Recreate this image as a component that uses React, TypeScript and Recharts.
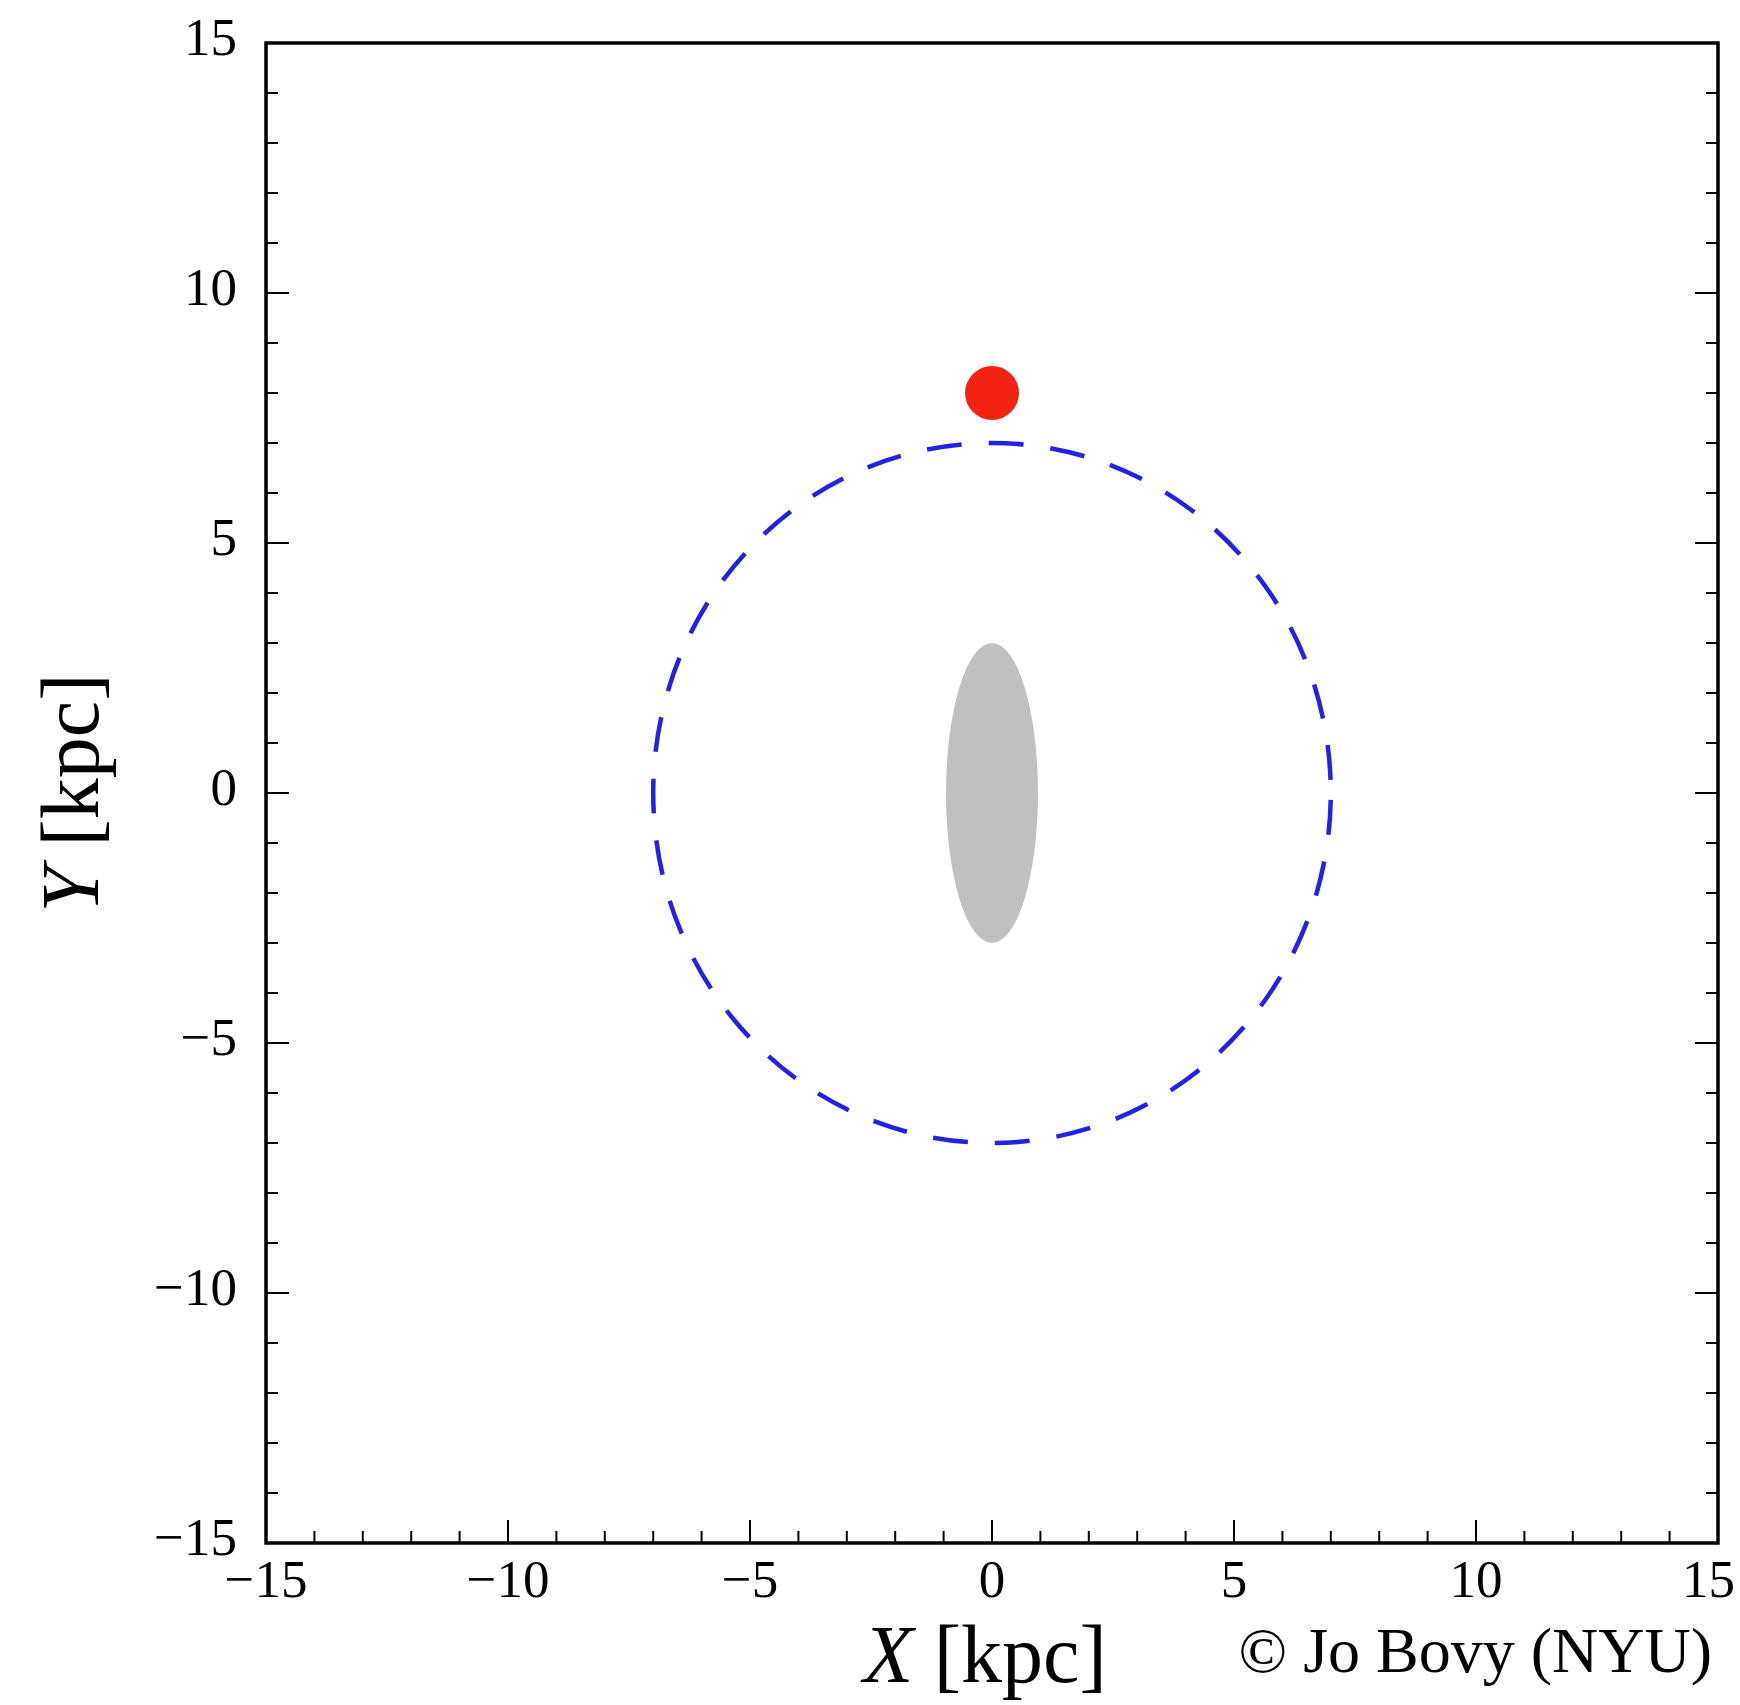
import { ScatterChart, Scatter, XAxis, YAxis, ReferenceArea } from "recharts";

// axis range and ticks (kpc)
const axisDomain: [number, number] = [-15, 15];
const tickValues = [
  -15, -14, -13, -12, -11, -10, -9, -8, -7, -6, -5, -4, -3, -2, -1, 0,
  1, 2, 3, 4, 5, 6, 7, 8, 9, 10, 11, 12, 13, 14, 15,
];
const majorTicks = [-15, -10, -5, 0, 5, 10, 15];

// position of the sun
const sunPoint = [{ x: 0, y: 8 }];

// dashed orbit circle: center and radius
const orbitCenter = { x: 0, y: 0 };
const orbitRadius = 7;

// bar (gray ellipse): center and half-axes
const barCenter = { x: 0, y: 0 };
const barHalfX = 0.95;
const barHalfY = 3;

const FONT = "'Liberation Serif', 'DejaVu Serif', serif";
const MAJOR_LEN = 23;
const MINOR_LEN = 12;

const fmt = (v: number) => (v < 0 ? "\u2212" + Math.abs(v) : String(v));
const isMajor = (v: number) => majorTicks.includes(v);
const isEdge = (v: number) => v === axisDomain[0] || v === axisDomain[1];

const BottomTick = (props: any) => {
  const { x, y, payload } = props;
  const v = payload.value;
  // keep the last label inside the picture
  const atRight = v === axisDomain[1];
  return (
    <g>
      {!isEdge(v) && (
        <line x1={x} x2={x} y1={y} y2={y - (isMajor(v) ? MAJOR_LEN : MINOR_LEN)} stroke="#000" strokeWidth={2} />
      )}
      {isMajor(v) && (
        <text
          x={atRight ? x + 17 : x}
          y={y + 54}
          textAnchor={atRight ? "end" : "middle"}
          fontSize={53}
          fontFamily={FONT}
          fill="#000"
        >
          {fmt(v)}
        </text>
      )}
    </g>
  );
};

const TopTick = (props: any) => {
  const { x, y, payload } = props;
  const v = payload.value;
  if (isEdge(v)) return <g />;
  return (
    <line x1={x} x2={x} y1={y} y2={y + (isMajor(v) ? MAJOR_LEN : MINOR_LEN)} stroke="#000" strokeWidth={2} />
  );
};

const LeftTick = (props: any) => {
  const { x, y, payload } = props;
  const v = payload.value;
  return (
    <g>
      {!isEdge(v) && (
        <line x1={x} x2={x + (isMajor(v) ? MAJOR_LEN : MINOR_LEN)} y1={y} y2={y} stroke="#000" strokeWidth={2} />
      )}
      {isMajor(v) && (
        <text x={x - 29} y={y + 12} textAnchor="end" fontSize={53} fontFamily={FONT} fill="#000">
          {fmt(v)}
        </text>
      )}
    </g>
  );
};

const RightTick = (props: any) => {
  const { x, y, payload } = props;
  const v = payload.value;
  if (isEdge(v)) return <g />;
  return (
    <line x1={x} x2={x - (isMajor(v) ? MAJOR_LEN : MINOR_LEN)} y1={y} y2={y} stroke="#000" strokeWidth={2} />
  );
};

// ellipse inscribed in the reference area box
const DashedOrbit = (props: any) => {
  const { x, y, width, height } = props;
  return (
    <ellipse
      cx={x + width / 2}
      cy={y + height / 2}
      rx={width / 2}
      ry={height / 2}
      fill="none"
      stroke="#2222e6"
      strokeWidth={4.5}
      strokeDasharray="35 27"
      strokeDashoffset={-7}
    />
  );
};

const BarShape = (props: any) => {
  const { x, y, width, height } = props;
  return <ellipse cx={x + width / 2} cy={y + height / 2} rx={width / 2} ry={height / 2} fill="#c0c0c0" />;
};

const SunDot = (props: any) => {
  const { cx, cy } = props;
  return <circle cx={cx} cy={cy} r={27} fill="#f42212" />;
};

const XLabel = (props: any) => {
  const { viewBox } = props;
  const cx = viewBox.x + viewBox.width / 2 - 7;
  return (
    <g fontFamily={FONT} fill="#000">
      <text x={cx} y={viewBox.y + 139} textAnchor="middle" fontSize={82}>
        <tspan fontStyle="italic">X</tspan> [kpc]
      </text>
      <text x={viewBox.x + viewBox.width - 6} y={viewBox.y + 129} textAnchor="end" fontSize={64}>
        © Jo Bovy (NYU)
      </text>
    </g>
  );
};

const YLabel = (props: any) => {
  const { viewBox } = props;
  const cy = viewBox.y + viewBox.height / 2;
  return (
    <text
      x={98}
      y={cy}
      transform={`rotate(-90, 98, ${cy})`}
      textAnchor="middle"
      fontSize={82}
      fontFamily={FONT}
      fill="#000"
    >
      <tspan fontStyle="italic">Y</tspan> [kpc]
    </text>
  );
};

export default function App() {
  return (
    <div style={{ position: "absolute", left: 0, top: 0, width: 1740, height: 1705, background: "#fff" }}>
      <ScatterChart width={1740} height={1705} margin={{ top: 0, right: 0, bottom: 0, left: 0 }}>
        <XAxis
          xAxisId="b"
          dataKey="x"
          type="number"
          orientation="bottom"
          domain={axisDomain}
          ticks={tickValues}
          interval={0}
          allowDataOverflow
          height={162}
          tickSize={0}
          tickMargin={0}
          tickLine={false}
          axisLine={false}
          tick={<BottomTick />}
          label={<XLabel />}
        />
        <XAxis
          xAxisId="t"
          type="number"
          orientation="top"
          domain={axisDomain}
          ticks={tickValues}
          interval={0}
          allowDataOverflow
          height={43}
          tickSize={0}
          tickMargin={0}
          tickLine={false}
          axisLine={false}
          tick={<TopTick />}
        />
        <YAxis
          yAxisId="l"
          dataKey="y"
          type="number"
          orientation="left"
          domain={axisDomain}
          ticks={tickValues}
          interval={0}
          allowDataOverflow
          width={266}
          tickSize={0}
          tickMargin={0}
          tickLine={false}
          axisLine={false}
          tick={<LeftTick />}
          label={<YLabel />}
        />
        <YAxis
          yAxisId="r"
          type="number"
          orientation="right"
          domain={axisDomain}
          ticks={tickValues}
          interval={0}
          allowDataOverflow
          width={22}
          tickSize={0}
          tickMargin={0}
          tickLine={false}
          axisLine={false}
          tick={<RightTick />}
        />
        <ReferenceArea
          xAxisId="b"
          yAxisId="l"
          x1={barCenter.x - barHalfX}
          x2={barCenter.x + barHalfX}
          y1={barCenter.y - barHalfY}
          y2={barCenter.y + barHalfY}
          shape={<BarShape />}
        />
        <ReferenceArea
          xAxisId="b"
          yAxisId="l"
          x1={orbitCenter.x - orbitRadius}
          x2={orbitCenter.x + orbitRadius}
          y1={orbitCenter.y - orbitRadius}
          y2={orbitCenter.y + orbitRadius}
          shape={<DashedOrbit />}
        />
        <ReferenceArea
          xAxisId="b"
          yAxisId="l"
          x1={axisDomain[0]}
          x2={axisDomain[1]}
          y1={axisDomain[0]}
          y2={axisDomain[1]}
          fill="none"
          fillOpacity={0}
          stroke="#000"
          strokeWidth={3.5}
        />
        <Scatter
          xAxisId="b"
          yAxisId="l"
          data={sunPoint}
          shape={<SunDot />}
          isAnimationActive={false}
        />
      </ScatterChart>
    </div>
  );
}
